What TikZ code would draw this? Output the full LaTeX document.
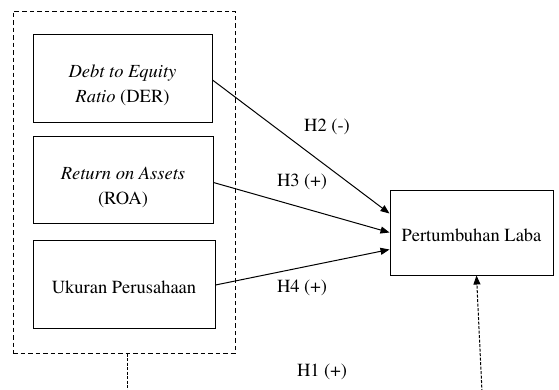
\documentclass[tikz,border=0pt]{standalone}
\usepackage[T1]{fontenc}
\usepackage{mathptmx}
\usetikzlibrary{arrows.meta}
\begin{document}
\begin{tikzpicture}[x=1pt,y=-1pt,
  font=\rmfamily\fontsize{18.5}{25}\selectfont,
  box/.style={draw,line width=1pt,inner sep=0pt},
  grpbox/.style={draw,line width=1pt,dash pattern=on 4.5pt off 3pt,inner sep=0pt},
  txt/.style={inner sep=0pt,align=center},
  arr/.style={line width=1pt,-{Triangle[length=9pt,width=7pt]}},
  dline/.style={line width=1pt,dash pattern=on 3pt off 1.5pt}]
\useasboundingbox (0,0) rectangle (559,389);
% group box
\node[grpbox,minimum width=222pt,minimum height=342pt] (grp) at (124,182) {};
% boxes
\node[box,minimum width=179pt,minimum height=88pt] (der) at (122.5,78) {};
\node[box,minimum width=180pt,minimum height=87pt] (roa) at (123,179.5) {};
\node[box,minimum width=182pt,minimum height=88pt] (uk) at (124,284) {};
\node[box,minimum width=163pt,minimum height=85pt] (plb) at (471.5,232.5) {};
% texts
\node[txt] (derT) at (122.5,85) {\textit{Debt to Equity}\\\textit{Ratio} (DER)};
\node[txt] (roaT) at (123,187) {\textit{Return on Assets}\\(ROA)};
\node[txt] (ukT) at (124,287) {Ukuran Perusahaan};
\node[txt] (plbT) at (471.5,235) {Pertumbuhan Laba};
% arrows
\draw[arr] ([yshift=-2pt]der.east) -- ([yshift=19pt]plb.west);
\draw[arr] ([yshift=-3pt]roa.east) -- (plb.west);
\draw[arr] ([yshift=-1pt]uk.east) -- ([yshift=-17pt]plb.west);
% labels
\node[txt] (h2) at (327,127) {H2 (-)};
\node[txt] (h3) at (302,182) {H3 (+)};
\node[txt] (h4) at (302,288) {H4 (+)};
\node[txt] (h1) at (322,372) {H1 (+)};
% H1 link pieces
\coordinate (b1) at (127,392);
\coordinate (b2) at (482,392);
\draw[dline] ([xshift=3pt]grp.south) -- (b1);
\draw[dline,-{Triangle[length=9pt,width=7pt]}] (b2) -- ([xshift=5pt]plb.south);
\end{tikzpicture}
\end{document}
